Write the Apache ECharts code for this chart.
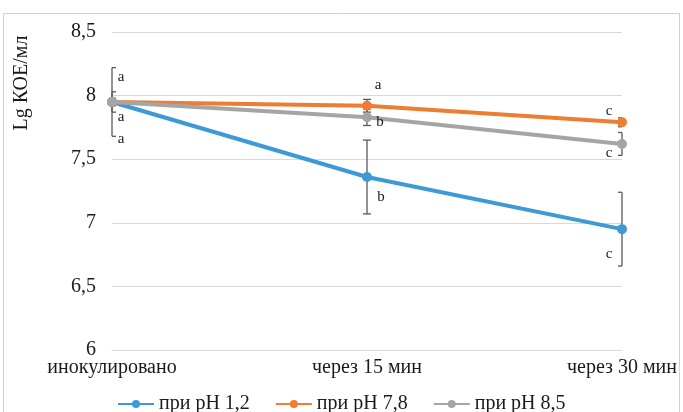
<!DOCTYPE html>
<html><head><meta charset="utf-8">
<script src="https://cdn.jsdelivr.net/npm/echarts@6/dist/echarts.min.js"></script>
<style>html,body{margin:0;padding:0;background:#fff}#c{width:683px;height:412px}</style>
</head><body><div id="c"></div>
<script>
const categories = ['инокулировано', 'через 15 мин', 'через 30 мин'];
const seriesNames = ['при pH 1,2', 'при pH 7,8', 'при pH 8,5'];
const ph12 = [7.95, 7.36, 6.95];
const ph78 = [7.95, 7.92, 7.79];
const ph85 = [7.95, 7.83, 7.62];
const err12 = [0.27, 0.29, 0.29];
const err78 = [0.03, 0.05, 0.035];
const err85 = [0.08, 0.065, 0.09];
const letters12 = ['a', 'b', 'c'];
const letters78 = ['a', 'a', 'c'];
const letters85 = ['a', 'b', 'c'];
const yTicks = [6, 6.5, 7, 7.5, 8, 8.5];

const colors = ['#3d9ad6', '#ed7d31', '#a5a5a5'];
const values = [ph12, ph78, ph85];
const errs = [err12, err78, err85];
const letters = [letters12, letters78, letters85];
// label offsets (px) relative to point: [series][category]
const labelOffsets = [
  [[9, 37], [14, 20], [-13, 25]],
  [[9, -25], [11, -21], [-13, -11]],
  [[9, 15], [13, 5], [-13, 9]]
];
const serif = '"Liberation Serif","Times New Roman",serif';

const errData = [];
const labData = [];
values.forEach((vals, s) => vals.forEach((v, i) => {
  errData.push([i, v - errs[s][i], v + errs[s][i]]);
  labData.push([i, v, s, letters[s][i]]);
}));

const chart = echarts.init(document.getElementById('c'));
chart.setOption({
  animation: false,
  grid: { left: 112, right: 61, top: 32, bottom: 62 },
  graphic: [
    { type: 'rect', shape: { x: 3.5, y: 13.5, width: 676, height: 420 }, style: { fill: 'none', stroke: '#d0d0d0', lineWidth: 1 }, z: -10 },
    { type: 'text', x: 22, y: 83, rotation: Math.PI / 2, style: { text: 'Lg КОЕ/мл', font: '20px ' + serif, fill: '#1a1a1a', align: 'center', verticalAlign: 'middle' } }
  ],
  legend: {
    top: 389, left: 112, itemWidth: 36, itemHeight: 10, itemGap: 25,
    textStyle: { fontFamily: serif, fontSize: 20, color: '#1a1a1a' },
    data: seriesNames
  },
  xAxis: {
    type: 'category', data: categories, boundaryGap: false,
    axisLine: { lineStyle: { color: '#d9d9d9' } }, axisTick: { show: false },
    axisLabel: { fontFamily: serif, fontSize: 20, color: '#1a1a1a', margin: 8 }
  },
  yAxis: {
    type: 'value', min: yTicks[0], max: yTicks[yTicks.length - 1], interval: 0.5,
    axisLine: { show: false }, axisTick: { show: false },
    splitLine: { lineStyle: { color: '#d9d9d9' } },
    axisLabel: { fontFamily: serif, fontSize: 20, color: '#1a1a1a', margin: 16, formatter: v => String(v).replace('.', ',') }
  },
  series: [
    ...values.map((vals, s) => ({
      name: seriesNames[s], type: 'line', data: vals, color: colors[s],
      lineStyle: { width: 4, color: colors[s] }, symbol: 'circle', symbolSize: 10,
      itemStyle: { color: colors[s] }, z: 3 + (s === 2 ? 1 : 0)
    })),
    {
      type: 'custom', data: errData, z: 2, silent: true,
      renderItem: (p, api) => {
        const cs = p.coordSys;
        const x = api.coord([api.value(0), api.value(1)])[0];
        const y1 = api.coord([api.value(0), api.value(1)])[1];
        const y2 = api.coord([api.value(0), api.value(2)])[1];
        const xl = Math.max(cs.x, x - 4), xr = Math.min(cs.x + cs.width, x + 4);
        const st = { stroke: '#595959', lineWidth: 1.3 };
        return { type: 'group', children: [
          { type: 'line', shape: { x1: x, y1: y1, x2: x, y2: y2 }, style: st },
          { type: 'line', shape: { x1: xl, y1: y1, x2: xr, y2: y1 }, style: st },
          { type: 'line', shape: { x1: xl, y1: y2, x2: xr, y2: y2 }, style: st }
        ] };
      }
    },
    {
      type: 'custom', data: labData, clip: false, z: 5, silent: true,
      renderItem: (p, api) => {
        const i = api.value(0), s = api.value(2);
        const pt = api.coord([i, api.value(1)]);
        const off = labelOffsets[s][i];
        return { type: 'text', x: pt[0] + off[0], y: pt[1] + off[1],
          style: { text: labData[p.dataIndex][3], font: '15px ' + serif, fill: '#1a1a1a', align: 'center', verticalAlign: 'middle' } };
      }
    }
  ]
});
</script></body></html>
